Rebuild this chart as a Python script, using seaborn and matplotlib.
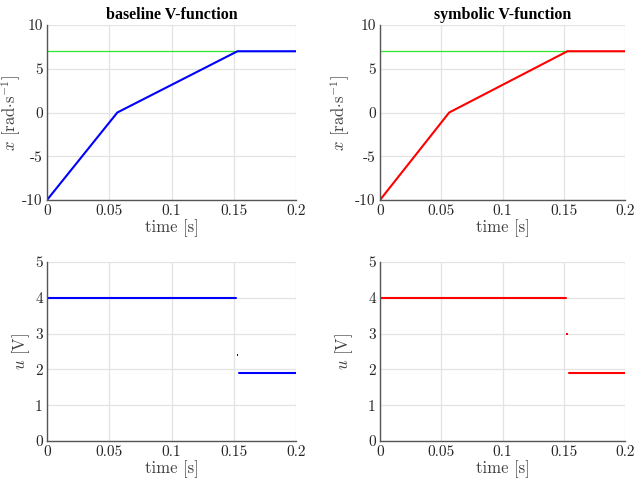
import matplotlib
matplotlib.use("Agg")
import matplotlib.pyplot as plt
import seaborn as sns
import numpy as np
import pandas as pd

# ---- data ----
titles = ["baseline V-function", "symbolic V-function"]
colors = ["#0000ff", "#ff0000"]
ref_color = "#2ee62e"

t_x = [0.0, 0.0565, 0.153, 0.2]
x_vals = [-10.0, 0.0, 7.0, 7.0]
x_ref_t = [0.0, 0.2]
x_ref = [7.0, 7.0]

u_hi_t = [0.0, 0.152]
u_hi = [4.0, 4.0]
u_lo_t = [0.154, 0.2]
u_lo = [1.9, 1.9]
u_mid_t = [0.153, 0.153]
u_mid = [2.39, 3.0]   # baseline, symbolic

xticks = [0, 0.05, 0.1, 0.15, 0.2]
xtick_labels = ["0", "0.05", "0.1", "0.15", "0.2"]
x_yticks = [-10, -5, 0, 5, 10]
x_ytick_labels = ["-10", "-5", "0", "5", "10"]
u_yticks = [0, 1, 2, 3, 4, 5]
u_ytick_labels = ["0", "1", "2", "3", "4", "5"]

sns.set_style("white")
plt.rcParams["font.family"] = ["cmr10", "DejaVu Serif"]
plt.rcParams["mathtext.fontset"] = "cm"
plt.rcParams["axes.unicode_minus"] = False
plt.rcParams["axes.formatter.use_mathtext"] = True

fig = plt.figure(figsize=(6.35, 4.88), dpi=100)
W, H = 635, 488
def pos(l, r, t, b):
    return [l / W, 1 - b / H, (r - l) / W, (b - t) / H]

lefts = [(47, 296), (380, 625)]
axes_top = [fig.add_axes(pos(l, r, 25, 200)) for l, r in lefts]
axes_bot = [fig.add_axes(pos(l, r, 262, 441)) for l, r in lefts]
xlab_top = [-0.096, -0.114]
xlab_bot = [-0.060, -0.102]

dark = "#262626"
grid_c = "#e3e3e3"

def style(ax, yt, ytl, ylim):
    ax.set_xlim(0, 0.2)
    ax.set_ylim(*ylim)
    ax.set_xticks(xticks)
    ax.set_xticklabels(xtick_labels)
    ax.set_yticks(yt)
    ax.set_yticklabels(ytl)
    ax.grid(True, color=grid_c, linewidth=0.9)
    ax.set_axisbelow(True)
    for s in ["top", "right"]:
        ax.spines[s].set_visible(False)
    for s in ["left", "bottom"]:
        ax.spines[s].set_color("#555555")
        ax.spines[s].set_linewidth(1.0)
    ax.tick_params(direction="in", length=3, width=0.8, colors="#555555",
                   labelcolor=dark, labelsize=11, pad=3)
    ax.set_xlabel("time [s]", fontsize=12, color="#404040", labelpad=1)

for i in range(2):
    ax = axes_top[i]
    style(ax, x_yticks, x_ytick_labels, (-10, 10))
    sns.lineplot(x=x_ref_t, y=x_ref, ax=ax, color=ref_color, linewidth=0.9)
    sns.lineplot(x=t_x, y=x_vals, ax=ax, color=colors[i], linewidth=1.5)
    ax.set_ylabel(r"$x$ [rad$\cdot$s$^{-1}$]", fontsize=12, color="#404040")
    ax.yaxis.set_label_coords(xlab_top[i], 0.5)
    ax.set_title(titles[i], fontsize=11.5, fontweight="bold",
                 family="Liberation Serif", color="black", pad=4)

    ax = axes_bot[i]
    style(ax, u_yticks, u_ytick_labels, (0, 5))
    sns.lineplot(x=u_hi_t, y=u_hi, ax=ax, color=colors[i], linewidth=1.5)
    sns.lineplot(x=u_lo_t, y=u_lo, ax=ax, color=colors[i], linewidth=1.5)
    sns.scatterplot(x=[u_mid_t[i]], y=[u_mid[i]], ax=ax, color=colors[i],
                    marker="s", s=2, edgecolor="none")
    ax.set_ylabel(r"$u$ [V]", fontsize=12, color="#404040")
    ax.yaxis.set_label_coords(xlab_bot[i], 0.5)

fig.savefig("out.png", dpi=100)
